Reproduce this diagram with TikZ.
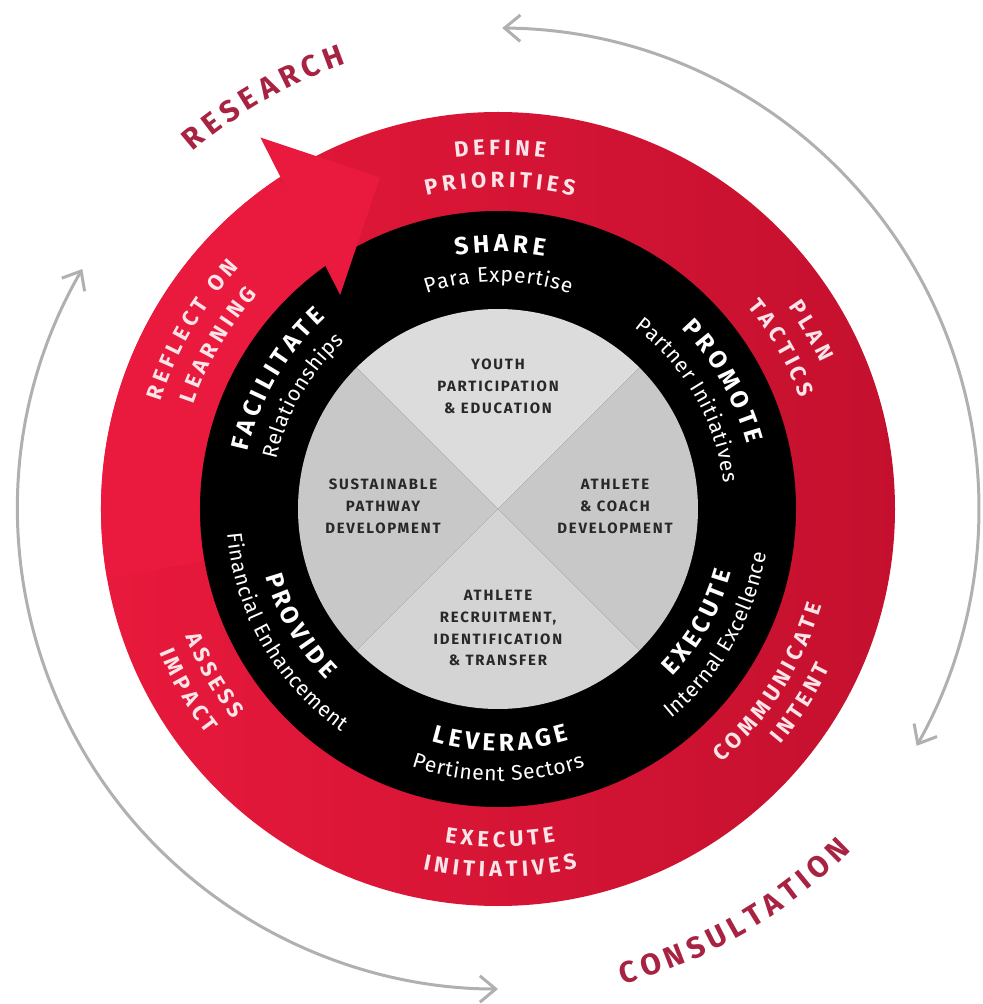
\documentclass[tikz,border=0pt]{standalone}
\usepackage{fontspec}
\setmainfont{Fira Sans}
\newfontfamily\quadfamily[LetterSpace=12]{Fira Sans}
\usetikzlibrary{arrows.meta,decorations.text}

\definecolor{ringdark}{RGB}{196,16,46}
\definecolor{ringlight}{RGB}{232,25,60}
\definecolor{arrowred}{RGB}{234,26,62}
\definecolor{ringtext}{RGB}{252,228,232}
\definecolor{maroon}{RGB}{168,34,66}
\definecolor{arcgray}{RGB}{176,176,176}
\definecolor{quadtop}{RGB}{220,220,220}
\definecolor{quadside}{RGB}{200,200,200}
\definecolor{quadbottom}{RGB}{212,212,212}
\definecolor{quadtext}{RGB}{40,40,40}

\newcommand{\ringfont}{\bfseries\fontsize{12.5}{15}\selectfont\kern2.4pt}
\newcommand{\titlefont}{\bfseries\fontsize{14}{17}\selectfont\kern2.3pt}
\newcommand{\subfont}{\fontsize{12}{14}\selectfont\kern0.4pt}
\newcommand{\outerfont}{\bfseries\fontsize{17}{20}\selectfont\kern3.1pt}
\newcommand{\quadfont}{\quadfamily\bfseries\fontsize{8.5}{12.5}\selectfont}

\begin{document}
\begin{tikzpicture}[
        x=0.02cm, y=0.02cm,
        cycle arrow/.style={{Straight Barb[length=9pt,width=15pt]}-{Straight Barb[length=9pt,width=15pt]}, line width=1.7pt, draw=arcgray},
        ring label/.style={decorate, decoration={text along path, text align=center, text color=ringtext, text={|\ringfont|#1}}},
        title label/.style={decorate, decoration={text along path, text align=center, text color=white, text={|\titlefont|#1}}},
        sub label/.style={decorate, decoration={text along path, text align=center, text color=white, text={|\subfont|#1}}},
        outer label/.style={decorate, decoration={text along path, text align=center, text color=maroon, text={|\outerfont|#1}}},
        quad/.style={align=center, text=quadtext, font=\quadfont}
    ]
        \fill[white] (-498,-495) rectangle (485,509);
        \useasboundingbox (-498,-495) rectangle (485,509);

        % Cycle arrows
        \coordinate (consult start) at (89.5:481);
        \coordinate (research start) at (150:480);
        \draw[cycle arrow] (consult start) arc[start angle=89.5, end angle=-29.5, radius=481];
        \draw[cycle arrow] (research start) arc[start angle=150, end angle=270, radius=480];

        % Rings
        \shade[left color=ringlight, right color=ringdark] (0,0) circle[radius=397];
        \fill[arrowred] (190:298) arc[start angle=190, end angle=123.5, radius=298]
            -- (123.5:397) arc[start angle=123.5, end angle=190, radius=397] -- cycle;
        \fill[black] (0,0) circle[radius=298];
        \fill[quadtop] (0,0) -- (45:200) arc[start angle=45, end angle=135, radius=200] -- cycle;
        \fill[quadside] (0,0) -- (135:200) arc[start angle=135, end angle=225, radius=200] -- cycle;
        \fill[quadbottom] (0,0) -- (225:200) arc[start angle=225, end angle=315, radius=200] -- cycle;
        \fill[quadside] (0,0) -- (315:200) arc[start angle=315, end angle=405, radius=200] -- cycle;
        \fill[arrowred] (122.6:441) -- (109.6:352) -- (126.4:266) -- cycle;

        % Centre
        \node[quad] (youth) at (0,123) {YOUTH\\PARTICIPATION\\\& EDUCATION};
        \node[quad] (pathway) at (-115,3) {SUSTAINABLE\\PATHWAY\\DEVELOPMENT};
        \node[quad] (coach) at (117,3) {ATHLETE\\\& COACH\\DEVELOPMENT};
        \node[quad] (recruit) at (0,-119) {ATHLETE\\RECRUITMENT,\\IDENTIFICATION\\\& TRANSFER};

        % Black ring
        \path[title label=SHARE] (140:257) arc[start angle=140, end angle=40, radius=257];
        \path[sub label=Para Expertise] (140:227) arc[start angle=140, end angle=40, radius=227];
        \path[title label=PROMOTE] (80:257) arc[start angle=80, end angle=-20, radius=257];
        \path[sub label=Partner Initiatives] (80:227) arc[start angle=80, end angle=-20, radius=227];
        \path[title label=FACILITATE] (200:257) arc[start angle=200, end angle=100, radius=257];
        \path[sub label=Relationships] (200:227) arc[start angle=200, end angle=100, radius=227];
        \path[title label=LEVERAGE] (220:242) arc[start angle=220, end angle=320, radius=242];
        \path[sub label=Pertinent Sectors] (220:272) arc[start angle=220, end angle=320, radius=272];
        \path[title label=EXECUTE] (-80:242) arc[start angle=-80, end angle=20, radius=242];
        \path[sub label=Internal Excellence] (-80:272) arc[start angle=-80, end angle=20, radius=272];
        \path[title label=PROVIDE] (160:242) arc[start angle=160, end angle=260, radius=242];
        \path[sub label=Financial Enhancement] (160:272) arc[start angle=160, end angle=260, radius=272];

        % Red ring
        \path[ring label=DEFINE] (140:354) arc[start angle=140, end angle=40, radius=354];
        \path[ring label=PRIORITIES] (140:322) arc[start angle=140, end angle=40, radius=322];
        \path[ring label=PLAN] (80:354) arc[start angle=80, end angle=-20, radius=354];
        \path[ring label=TACTICS] (80:322) arc[start angle=80, end angle=-20, radius=322];
        \path[ring label=REFLECT ON] (200:354) arc[start angle=200, end angle=100, radius=354];
        \path[ring label=LEARNING] (200:322) arc[start angle=200, end angle=100, radius=322];
        \path[ring label=EXECUTE] (220:338) arc[start angle=220, end angle=320, radius=338];
        \path[ring label=INITIATIVES] (220:368) arc[start angle=220, end angle=320, radius=368];
        \path[ring label=COMMUNICATE] (-83:338) arc[start angle=-83, end angle=17, radius=338];
        \path[ring label=INTENT] (-83:368) arc[start angle=-83, end angle=17, radius=368];
        \path[ring label=ASSESS] (160:338) arc[start angle=160, end angle=260, radius=338];
        \path[ring label=IMPACT] (160:368) arc[start angle=160, end angle=260, radius=368];

        % Outside
        \path[outer label=RESEARCH] (170:470) arc[start angle=170, end angle=70, radius=470];
        \path[outer label=CONSULTATION] (-110:491) arc[start angle=-110, end angle=-10, radius=491];
    \end{tikzpicture}
\end{document}
